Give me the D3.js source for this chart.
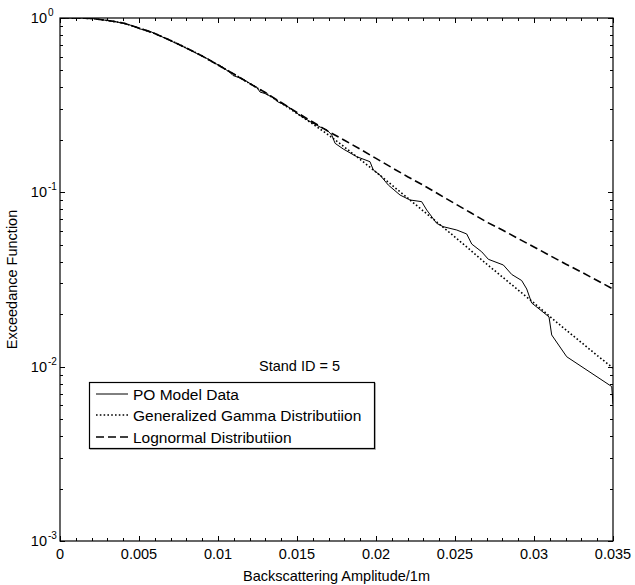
<!DOCTYPE html>
<html><head><meta charset="utf-8">
<script src="https://cdn.jsdelivr.net/npm/d3@7"></script>
<style>body{margin:0;background:#fff}svg{display:block}text{font-family:Arial,"Liberation Sans",sans-serif;fill:#000}</style>
</head><body><svg id="c" width="635" height="585"></svg>
<script>
// ---- data ----
const xTicks = [0, 0.005, 0.01, 0.015, 0.02, 0.025, 0.03, 0.035];
const xTickLabels = ["0", "0.005", "0.01", "0.015", "0.02", "0.025", "0.03", "0.035"];
const yTicks = [0.001, 0.01, 0.1, 1];
const yTickExps = ["-3", "-2", "-1", "0"];

const gammaX = [0,0.001,0.002,0.003,0.004,0.005,0.006,0.007,0.008,0.009,0.010,0.011,0.012,0.013,0.014,0.015,0.016,0.017,0.018,0.019,0.020,0.021,0.022,0.023,0.024,0.025,0.026,0.027,0.028,0.029,0.030,0.031,0.032,0.033,0.034,0.035];
const gammaY = [1,1,0.9934,0.9675,0.9361,0.8762,0.8148,0.7431,0.6728,0.6053,0.5375,0.4773,0.4210,0.3713,0.3254,0.2833,0.2465,0.2132,0.1820,0.1543,0.1308,0.1101,0.0928,0.0781,0.0658,0.0554,0.0464,0.0388,0.0327,0.0275,0.0232,0.0194,0.0163,0.01376,0.01159,0.00982];

const lognX = [0,0.001,0.002,0.003,0.004,0.005,0.006,0.007,0.008,0.009,0.010,0.011,0.012,0.013,0.014,0.015,0.016,0.017,0.018,0.019,0.020,0.021,0.022,0.023,0.024,0.025,0.026,0.027,0.028,0.029,0.030,0.031,0.032,0.033,0.034,0.035];
const lognY = [1,1,0.9934,0.9675,0.9361,0.8762,0.8148,0.7431,0.6728,0.6053,0.5375,0.4773,0.4210,0.3737,0.3276,0.2871,0.2532,0.2233,0.1988,0.1768,0.1565,0.1386,0.1229,0.1097,0.0972,0.0861,0.0763,0.0676,0.0608,0.0543,0.0486,0.0434,0.0388,0.0349,0.0312,0.0279];

const poX = [0,0.00177,0.00253,0.00348,0.00443,0.00506,0.00557,0.00601,0.00696,0.00791,0.00886,0.00949,0.00975,0.01013,0.01076,0.01095,0.01158,0.01203,0.01247,0.01266,0.01297,0.01342,0.01380,0.01411,0.01456,0.01519,0.01582,0.01646,0.01690,0.01720,0.01741,0.01793,0.01878,0.01962,0.01983,0.02025,0.02078,0.02152,0.02215,0.02289,0.02321,0.02384,0.02426,0.02511,0.02574,0.02606,0.02669,0.02711,0.02806,0.02859,0.02922,0.02954,0.02985,0.03095,0.03112,0.03207,0.03492,0.03500];
const poY = [1,1,0.9804,0.9548,0.9118,0.8648,0.8478,0.8148,0.7431,0.6772,0.6133,0.5742,0.5519,0.5340,0.4868,0.4679,0.4467,0.4210,0.3993,0.3762,0.3688,0.3521,0.3297,0.3211,0.3046,0.2759,0.2548,0.2370,0.2278,0.2132,0.1911,0.1772,0.1601,0.1499,0.1343,0.1257,0.1101,0.0965,0.0904,0.0884,0.0792,0.0664,0.0635,0.0608,0.0577,0.0505,0.0456,0.0413,0.0383,0.0338,0.0312,0.0279,0.0232,0.0193,0.0152,0.0114,0.00769,0.00611];

const legendLabels = ["PO Model Data", "Generalized Gamma Distributiion", "Lognormal Distributiion"];
const annotation = "Stand ID = 5";
const xLabel = "Backscattering Amplitude/1m";
const yLabel = "Exceedance Function";

// ---- drawing ----
const L = 60, R = 613, T = 18, B = 541;
const svg = d3.select("#c");
const x = d3.scaleLinear().domain([0, 0.035]).range([L, R]);
const y = d3.scaleLog().domain([0.001, 1]).range([B, T]);

const zip = (a, b) => a.map((v, i) => [v, b[i]]);
const line = d3.line().x(d => x(d[0])).y(d => y(d[1]));

svg.append("clipPath").attr("id", "pc").append("rect")
  .attr("x", L).attr("y", T).attr("width", R - L).attr("height", B - T);
const g = svg.append("g").attr("clip-path", "url(#pc)");

const styles = [
  {w: 1, dash: null},
  {w: 1.6, dash: "1.6,2.2"},
  {w: 1.6, dash: "8,4"}
];
const series = [zip(poX, poY), zip(gammaX, gammaY), zip(lognX, lognY)];
[2, 1, 0].forEach(i => {
  g.append("path").attr("d", line(series[i])).attr("fill", "none")
    .attr("stroke", "#000").attr("stroke-width", styles[i].w)
    .attr("stroke-dasharray", styles[i].dash);
});

// box
svg.append("rect").attr("x", L).attr("y", T).attr("width", R - L).attr("height", B - T)
  .attr("fill", "none").attr("stroke", "#000").attr("stroke-width", 1.2);

// x ticks
const xMinor = d3.range(0, 36).map(i => i * 0.001);
const tk = svg.append("g").attr("stroke", "#000").attr("stroke-width", 1);
xMinor.forEach(v => {
  const major = Math.abs(Math.round(v / 0.005) * 0.005 - v) < 1e-9;
  const len = major ? 5 : 3;
  const px = Math.round(x(v)) + 0.5;
  tk.append("line").attr("x1", px).attr("x2", px).attr("y1", B).attr("y2", B - len);
  tk.append("line").attr("x1", px).attr("x2", px).attr("y1", T).attr("y2", T + len);
});
// y ticks
const yMinor = [];
[0.001, 0.01, 0.1].forEach(d => { for (let k = 1; k <= 9; k++) yMinor.push([d * k, k === 1]); });
yMinor.push([1, true]);
yMinor.forEach(([v, major]) => {
  const len = major ? 5 : 3;
  const py = Math.round(y(v)) + 0.5;
  tk.append("line").attr("x1", L).attr("x2", L + len).attr("y1", py).attr("y2", py);
  tk.append("line").attr("x1", R).attr("x2", R - len).attr("y1", py).attr("y2", py);
});

// x tick labels
svg.append("g").selectAll("text").data(xTicks).join("text")
  .attr("x", d => x(d)).attr("y", B + 18).attr("text-anchor", "middle")
  .attr("font-size", 14.5).text((d, i) => xTickLabels[i]);

// y tick labels
yTicks.forEach((v, i) => {
  svg.append("text").attr("x", 47).attr("y", y(v) + 5).attr("text-anchor", "end").attr("font-size", 14.5).text("10");
  svg.append("text").attr("x", 48).attr("y", y(v) - 2).attr("font-size", 10).text(yTickExps[i]);
});

// axis labels
svg.append("text").attr("x", (L + R) / 2).attr("y", 581).attr("text-anchor", "middle")
  .attr("font-size", 14.5).text(xLabel);
svg.append("text").attr("transform", `translate(17,${(T + B) / 2}) rotate(-90)`)
  .attr("text-anchor", "middle").attr("font-size", 14.5).text(yLabel);

// annotation
svg.append("text").attr("x", 259).attr("y", 371).attr("font-size", 14.5).text(annotation);

// legend
const lg = svg.append("g");
lg.append("rect").attr("x", 90.5).attr("y", 383.5).attr("width", 285).attr("height", 66)
  .attr("fill", "none").attr("stroke", "#bbb").attr("stroke-width", 1);
lg.append("rect").attr("x", 89.5).attr("y", 382.5).attr("width", 285).attr("height", 66)
  .attr("fill", "#fff").attr("stroke", "#000").attr("stroke-width", 1.2);
const rowY = [394, 415, 437];
legendLabels.forEach((lab, i) => {
  lg.append("line").attr("x1", 96).attr("x2", 128).attr("y1", rowY[i]).attr("y2", rowY[i])
    .attr("stroke", "#000").attr("stroke-width", styles[i].w).attr("stroke-dasharray", styles[i].dash);
  lg.append("text").attr("x", 133).attr("y", rowY[i] + 5.5).attr("font-size", 15.5).text(lab);
});
</script></body></html>
